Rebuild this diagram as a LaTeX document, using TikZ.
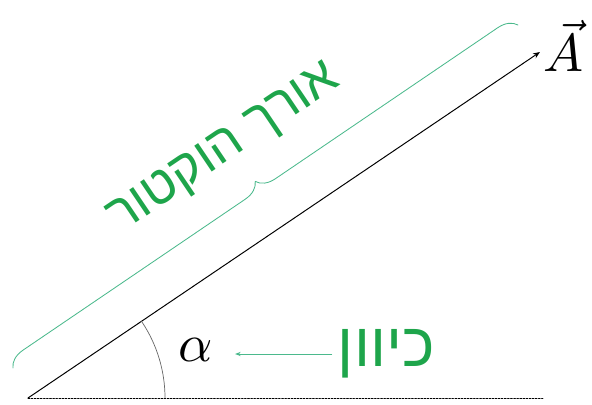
\documentclass[tikz,border=0pt]{standalone}
\usepackage{amsmath}
\usepackage{fontspec}
\newfontfamily\hebfont[Script=Hebrew]{Liberation Sans}
\TeXXeTstate=1
\usetikzlibrary{arrows.meta,decorations.pathreplacing,calc}
\definecolor{labelgreen}{RGB}{30,165,75}
\definecolor{bracegreen}{RGB}{75,185,140}

\begin{document}
\begin{tikzpicture}[
	x=0.025cm, y=0.025cm,
	line cap=round,
	line join=round,
	vecline/.style={line width=0.7pt, -{Stealth[length=5pt,width=4pt]}},
	groundline/.style={line width=0.6pt, dash pattern=on 1.2pt off 1pt},
	greenarrow/.style={bracegreen, line width=0.6pt, -{Stealth[length=4pt,width=3pt]}},
	hebtext/.style={text=labelgreen, font=\hebfont\fontsize{44}{46}\selectfont},
	mathbig/.style={scale=3.8, inner sep=1pt}
	]
	\useasboundingbox (0,0) rectangle (592,404);
	
	% vector and ground line
	\coordinate (O) at (28,6);
	\coordinate (tip) at (540,352);
	\coordinate (ground end) at (543,6);
	\draw[groundline] (O) -- (ground end);
	\draw[vecline] (O) -- (tip);
	
	% angle
	\draw[line width=0.5pt, black!60] ($(O)+(137,0)$) arc[start angle=0, end angle=34, radius=137];
	\node[mathbig] (alpha) at (196,54) {$\alpha$};
	
	% direction label
	\node[hebtext, anchor=west] (kivun) at (333,50) {\beginR כיוון\endR};
	\draw[greenarrow, shorten <=1pt, shorten >=11pt] (kivun.west) -- (alpha.east |- kivun.west);
	
	% vector name
	\node[mathbig] (A) at (564,358) {$\vec{A}$};
	
	% length brace
	\coordinate (brace start) at (13,36);
	\coordinate (brace end) at (518,379);
	\draw[bracegreen, line width=0.6pt, decorate, decoration={brace, amplitude=13pt}]
	(brace start) -- (brace end);
	\node[hebtext, rotate=34, font=\hebfont\fontsize{37}{39}\selectfont] (length) at (225,254) {\beginR אורך הוקטור\endR};
	
\end{tikzpicture}
\end{document}
